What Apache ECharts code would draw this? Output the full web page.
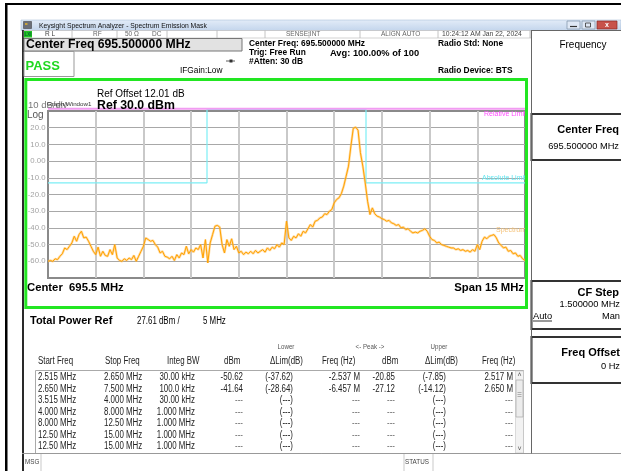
<!DOCTYPE html>
<html><head><meta charset="utf-8">
<script src="https://cdn.jsdelivr.net/npm/echarts@6/dist/echarts.min.js"></script>
<style>html,body{margin:0;padding:0;background:#fff}#c{width:621px;height:471px}</style>
</head><body><div id="c"></div>
<script>
// ---- data (x = offset from center 695.5 MHz, in MHz) ----
const centerMHz = 695.5, spanMHz = 15;
const sweepStartMHz = -7.5, sweepStepMHz = 0.075;
const traceDbm = [
 -60,-59.5,-60,-58.5,-59,-57,-55.5,-52,-53,-51,
 -49,-45,-48,-44,-42,-46,-45.5,-48,-51,-54,
 -56,-51.5,-57,-54,-56.5,-57,-53,-56,-50,-58,
 -59.5,-60,-58.5,-59.5,-58,-59,-56.5,-60,-57,-54,
 -51,-46,-47,-48,-47.5,-50,-51.5,-55,-54,-57,
 -57.5,-58.5,-57,-59.5,-56,-58,-55,-56,-51,-55.5,
 -53,-54.5,-52,-53,-50,-58,-47,-61,-49,-44,
 -39,-38.5,-39.5,-50,-55,-47,-51,-46.5,-53,-51,
 -55,-54,-56,-54.5,-55.5,-54,-55.5,-53.5,-55,-54,
 -53,-54.5,-52,-53.5,-51.5,-52.5,-50,-51.5,-49,-50,
 -36,-46,-47.5,-45,-46,-43.5,-45,-42,-43,-40.5,
 -38,-39.5,-36,-35.5,-34,-33.5,-31.5,-32,-30,-29,
 -25,-23,-22,-19.5,-15,-9,-3,9,19.6,20.3,
 18.5,5,-3,-13,-24,-32,-28,-31.5,-33,-33.5,
 -34.5,-35,-36,-35.5,-37,-37.5,-38.5,-38,-40,-39.5,
 -41,-40.5,-42,-43,-42.5,-43,-42,-41.5,-40.5,-42,
 -45,-47,-47.5,-49,-48.5,-50,-50.5,-51,-51.5,-52,
 -52,-53,-52.5,-53.5,-53,-54,-53.5,-54.5,-53,-54,
 -50,-53,-48,-45.5,-46.5,-45,-44.5,-44,-46,-49,
 -50.5,-52,-51.5,-54,-53.5,-55.5,-55,-57,-56.5,-58.5,-59.5
];
const absLimitFreq = [-7.5,-2.5,-2.5,2.5,2.5,7.5];
const absLimitDbm  = [-13,-13,31,31,-13,-13];
const relLimitFreq = [-7.5,7.5];
const relLimitDbm  = [31.4,31.4];
const yMin = -70, yMax = 30, yStep = 10;

const groupHeaders = ["Lower","<- Peak ->","Upper"];
const colHeaders = ["Start Freq","Stop Freq","Integ BW","dBm","\u0394Lim(dB)","Freq (Hz)","dBm","\u0394Lim(dB)","Freq (Hz)"];
const tableRows = [
 ["2.515 MHz","2.650 MHz","30.00 kHz","-50.62","(-37.62)","-2.537 M","-20.85","(-7.85)","2.517 M"],
 ["2.650 MHz","7.500 MHz","100.0 kHz","-41.64","(-28.64)","-6.457 M","-27.12","(-14.12)","2.650 M"],
 ["3.515 MHz","4.000 MHz","30.00 kHz","---","(---)","---","---","(---)","---"],
 ["4.000 MHz","8.000 MHz","1.000 MHz","---","(---)","---","---","(---)","---"],
 ["8.000 MHz","12.50 MHz","1.000 MHz","---","(---)","---","---","(---)","---"],
 ["12.50 MHz","15.00 MHz","1.000 MHz","---","(---)","---","---","(---)","---"],
 ["12.50 MHz","15.00 MHz","1.000 MHz","---","(---)","---","---","(---)","---"]
];

// ---- build ----
const FF = '"Liberation Sans", Arial, sans-serif';
const traceData = traceDbm.map((v,i)=>[sweepStartMHz + i*sweepStepMHz, v]);
const absData = absLimitFreq.map((f,i)=>[f, absLimitDbm[i]]);
const relData = relLimitFreq.map((f,i)=>[f, relLimitDbm[i]]);

function T(x,y,text,o){o=o||{};return {type:'text',x:x,y:y,z:o.z||50,silent:true,scaleX:o.sx||1,style:{text:text,fill:o.color||'#000',fontSize:o.size||9,fontWeight:o.bold?'bold':'normal',fontFamily:o.family||FF,textAlign:o.align||'left',textVerticalAlign:'middle'}};}
function R(x,y,w,h,fill,stroke,lw,z){return {type:'rect',z:z||20,silent:true,shape:{x:x,y:y,width:w,height:h},style:{fill:fill||'none',stroke:stroke||null,lineWidth:lw||0}};}
function L(x1,y1,x2,y2,c,lw,z){return {type:'line',z:z||30,silent:true,shape:{x1:x1,y1:y1,x2:x2,y2:y2},style:{stroke:c,lineWidth:lw||1}};}

const G = [];
// document frame
G.push(R(5,3,616,2,'#000'));
G.push(R(5,3,2.5,468,'#000'));
// window frame
G.push(R(21,20,600,10.5,new echarts.graphic.LinearGradient(0,0,0,1,[{offset:0,color:'#e3ecf8'},{offset:1,color:'#c3d5ec'}]),'#9fb4d0',0.5));
G.push(R(23.5,21.5,8,7,'#6b6f78','#333',0.5));
G.push(R(25,23,2.5,2,'#c9a33c'));
G.push(T(39,25.5,'Keysight Spectrum Analyzer - Spectrum Emission Mask',{size:7.3,color:'#111',sx:0.93}));
G.push(R(567,21,13,8,'#dfe8f5','#7d8fa8',0.7));G.push(L(570,26.5,577,26.5,'#333',1.2));
G.push(R(582,21,13,8,'#dfe8f5','#7d8fa8',0.7));G.push(R(585.5,23,5,4,'none','#333',0.8));
G.push(R(597,21,20,8,'#c8524b','#8a2a25',0.7));G.push(T(607,25,'x',{size:7,color:'#fff',bold:true,align:'center'}));
G.push(R(22,30,2,441,'#2a2a2a'));
// status row
G.push(R(24,30.5,507,7.5,'#fff','#b5b5b5',0.6));
G.push(R(24,31,8,6.5,'#22c422'));G.push(T(28,34.3,'LXI',{size:4.5,color:'#063',bold:true,align:'center'}));
[72,117,167,217,265,309,360,438,530].forEach(x=>G.push(L(x,30.5,x,38,'#b5b5b5',0.8)));
G.push(T(45,34.3,'R L',{size:6.5,color:'#444'}));
G.push(T(93,34.3,'RF',{size:6.5,color:'#666'}));
G.push(T(125,34.3,'50 \u03A9',{size:6.5,color:'#666'}));
G.push(T(152,34.3,'DC',{size:6.5,color:'#666'}));
G.push(T(286,34.3,'SENSE:INT',{size:6.5,color:'#666'}));
G.push(T(381,34.3,'ALIGN AUTO',{size:6.5,color:'#666'}));
G.push(T(442,34.3,'10:24:12 AM Jan 22, 2024',{size:6.8,color:'#444'}));
// info row
G.push(R(24,38.5,218,12.5,'#e2e2e2','#777',1));
G.push(T(26,45,'Center Freq 695.500000 MHz',{size:12.2,bold:true}));
G.push(T(249,43.5,'Center Freq: 695.500000 MHz',{size:8.4,bold:true}));
G.push(T(249,53,'Trig: Free Run',{size:8.4,bold:true}));
G.push(T(330,53,'Avg: 100.00% of 100',{size:9.3,bold:true}));
G.push(T(249,62,'#Atten: 30 dB',{size:8.4,bold:true}));
G.push(T(438,43.5,'Radio Std: None',{size:8.4,bold:true}));
G.push(T(438,70.5,'Radio Device: BTS',{size:8.4,bold:true}));
G.push(T(180,71,'IFGain:Low',{size:8.3}));
G.push(L(226,61,235,61,'#333',0.8));G.push(R(229.5,59.5,3,3,'#333'));
G.push(R(24,51.5,50,25,'#fff','#999',1));
G.push(T(25.5,66.5,'PASS',{size:13,bold:true,color:'#1fd81f'}));
// plot panel
G.push(R(25.8,79.5,500.7,228,'none','#22e622',3,60));
G.push(T(97,94,'Ref Offset 12.01 dB',{size:10}));
G.push(T(97,105.5,'Ref 30.0 dBm',{size:12.3,bold:true}));
G.push(T(28,105,'10 dB/div',{size:9.5,color:'#777'}));
G.push(T(47,104.5,'Graph/Window1',{size:6.2,color:'#333'}));
G.push(T(27,115.5,'Log',{size:10,color:'#555'}));
G.push(T(526,114.5,'Relative Limit',{size:7,color:'#ff4cff',align:'right'}));
G.push(T(526,178.5,'Absolute Limit',{size:7,color:'#66e6f0',align:'right'}));
G.push(T(526,230.5,'Spectrum',{size:7,color:'#f4c27a',align:'right'}));
G.push(T(27,287.5,'Center  695.5 MHz',{size:11.3,bold:true}));
G.push(T(524,287.5,'Span 15 MHz',{size:11.3,bold:true,align:'right'}));
// table
const SX = 0.79, TS = 10;
G.push(T(30,320.5,'Total Power Ref',{size:11,bold:true}));
G.push(T(137,321,'27.61 dBm /',{size:TS,sx:SX}));
G.push(T(203,321,'5 MHz',{size:TS,sx:SX}));
G.push(T(286,347,groupHeaders[0],{size:7,color:'#555',align:'center',sx:0.88}));
G.push(T(370,347,groupHeaders[1],{size:7,color:'#555',align:'center',sx:0.88}));
G.push(T(439,347,groupHeaders[2],{size:7,color:'#555',align:'center',sx:0.88}));
const hdrX = [38,105,167,224,270,322,382,425,482];
colHeaders.forEach((h,i)=>G.push(T(hdrX[i],361,h,{size:TS,color:'#222',sx:SX})));
G.push(R(35.5,370.5,488,83,'#fff','#aaa',1,15));
const colX = [38,104,195,243,293,360,395,446,513];
const colAlign = ['left','left','right','right','right','right','right','right','right'];
const rowY = [377,389,400.5,412,423.5,435,446.5];
tableRows.forEach((r,ri)=>r.forEach((v,ci)=>G.push(T(colX[ci],rowY[ri],v,{size:TS,sx:SX,color:(v.indexOf('---')>=0&&v.length<4)?'#777':'#222',align:colAlign[ci]}))));
G.push(R(515.5,371,8,82,'#f2f2f2','#c4c4c4',0.6,25));
G.push(T(519.5,375,'\u02C4',{size:7,color:'#555',align:'center'}));
G.push(R(516,380,7,37,'#ececec','#a9a9a9',0.7,26));
G.push(L(517.5,392.5,521.5,392.5,'#888',0.6));G.push(L(517.5,394.5,521.5,394.5,'#888',0.6));G.push(L(517.5,396.5,521.5,396.5,'#888',0.6));
G.push(T(519.5,449,'\u02C5',{size:7,color:'#555',align:'center'}));
// message bar
G.push(L(22,453.5,621,453.5,'#999',1,40));
G.push(R(24,454,597,17,'#fff',null,0,35));
G.push(T(25,462.5,'MSG',{size:6.3,color:'#444'}));
G.push(L(41,454,41,471,'#bbb',0.8,40));
G.push(L(404,454,404,471,'#bbb',0.8,40));G.push(L(433,454,433,471,'#bbb',0.8,40));
G.push(T(405,462.5,'STATUS',{size:6.3,color:'#444'}));
// right menu panel
G.push(L(531.5,30,531.5,453.5,'#666',1,40));
G.push(L(531,30.5,621,30.5,'#666',1,40));
G.push(T(583,45,'Frequency',{size:10,align:'center'}));
G.push(R(531.5,114,91,46,'#fff','#333',2,30));
G.push(T(619,129.5,'Center Freq',{size:11,bold:true,align:'right'}));
G.push(T(619,146,'695.500000 MHz',{size:9.3,align:'right'}));
G.push(R(531.5,281,91,48,'#fff','#333',2,30));
G.push(T(619,293,'CF Step',{size:11,bold:true,align:'right'}));
G.push(T(620,304,'1.500000 MHz',{size:9.3,align:'right'}));
G.push(T(533,316,'Auto',{size:9.3}));G.push(L(533,321,552,321,'#000',0.8,55));
G.push(T(620,316,'Man',{size:9.3,align:'right'}));
G.push(R(531.5,337,91,46,'#fff','#333',2,30));
G.push(T(620,352.5,'Freq Offset',{size:11,bold:true,align:'right'}));
G.push(T(620,366,'0 Hz',{size:9.3,align:'right'}));

const chart = echarts.init(document.getElementById('c'), null, {width:621,height:471});
chart.setOption({
  animation:false,
  backgroundColor:'#fff',
  grid:{left:48,right:96,top:111,bottom:193,show:true,borderColor:'#8a8a8a',borderWidth:2,backgroundColor:'#fff'},
  xAxis:{type:'value',min:sweepStartMHz,max:-sweepStartMHz,interval:1.5,
    axisLabel:{show:false},axisLine:{show:false},axisTick:{show:false},
    splitLine:{show:true,showMinLine:false,showMaxLine:false,lineStyle:{color:'#c9c9c9',width:2}}},
  yAxis:{type:'value',min:yMin,max:yMax,interval:yStep,
    axisLine:{show:false},axisTick:{show:false},
    axisLabel:{color:'#a3a3a3',fontSize:7.8,fontFamily:FF,margin:2.5,
      formatter:v=>(v===yMax||v===yMin)?'':(v===0?'0.00':v.toFixed(1))},
    splitLine:{show:true,showMinLine:false,showMaxLine:false,lineStyle:{color:'#a8a8a8',width:1}}},
  series:[
    {type:'line',data:absData,symbol:'none',clip:false,lineStyle:{color:'#7ceef5',width:1.2},z:3,silent:true},
    {type:'line',data:relData,symbol:'none',clip:false,lineStyle:{color:'#f29cf2',width:2},z:4,silent:true},
    {type:'line',data:traceData,symbol:'none',lineStyle:{color:'rgba(255,190,90,0.55)',width:2.4},z:5,silent:true},
    {type:'line',data:traceData,symbol:'none',lineStyle:{color:'#ffa200',width:1},z:6,silent:true}
  ],
  graphic:{elements:G}
});
</script></body></html>
